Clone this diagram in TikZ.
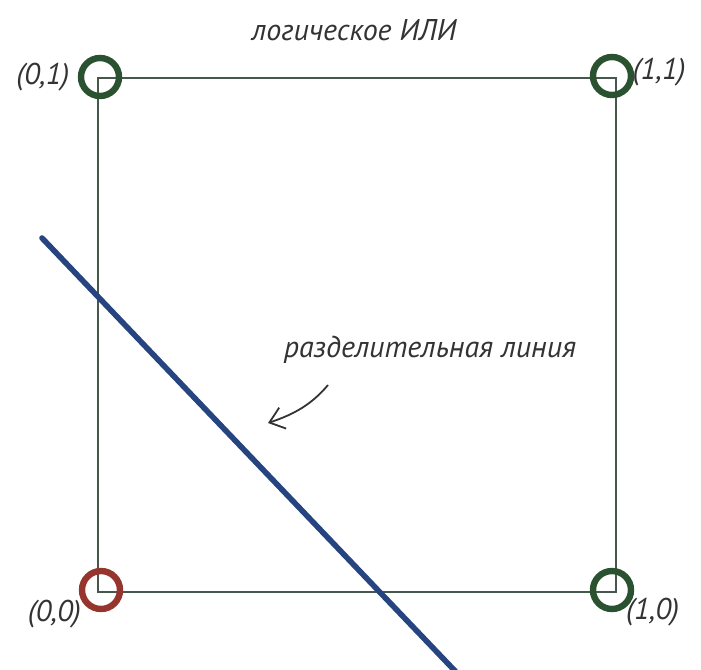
\documentclass[tikz,border=0pt]{standalone}
\usepackage{fontspec}
\setmainfont{PT Sans}
\usepackage{xcolor}
\usepackage{tikz}
\usetikzlibrary{arrows.meta,positioning}
\definecolor{verdeEscuro}{RGB}{42,82,48}
\definecolor{vermelhoEscuro}{RGB}{150,52,46}
\definecolor{azulLinha}{RGB}{38,68,128}
\definecolor{cinzaQuadro}{RGB}{70,88,76}
\tikzset{
    ponto/.style={
        circle,
        draw,
        line width=3.2pt,
        minimum size=19pt,
        inner sep=0pt
    },
    pontoVerdadeiro/.style={ponto, draw=verdeEscuro},
    pontoFalso/.style={ponto, draw=vermelhoEscuro},
    rotulo/.style={font=\fontsize{15}{17}\selectfont\itshape, text=black!80, inner sep=1pt},
    quadro/.style={draw=cinzaQuadro, line width=0.6pt},
    linhaDivisoria/.style={draw=azulLinha, line width=2.8pt, line cap=round},
    seta/.style={-{Straight Barb[length=7pt,width=11pt]}, line width=0.9pt, black!80}
}

\begin{document}
\begin{tikzpicture}[x=0.5pt, y=-0.5pt]
        \useasboundingbox (0,0) rectangle (701,669);

        % cantos do quadrado
        \coordinate (c00) at (98,592);
        \coordinate (c10) at (616,592);
        \coordinate (c01) at (98,78);
        \coordinate (c11) at (616,78);

        \draw[quadro] (c00) -- (c10) -- (c11) -- (c01) -- cycle;

        \node[pontoFalso] (v00) at (101,590) {};
        \node[pontoVerdadeiro] (v10) at (612,590) {};
        \node[pontoVerdadeiro] (v01) at (100,77) {};
        \node[pontoVerdadeiro] (v11) at (612,76) {};

        \node[rotulo, left=3pt of v01] (r01) {(0,1)};
        \node[rotulo, right=-2pt of v11, yshift=2pt] (r11) {(1,1)};
        \node[rotulo, below left=-4pt and 1pt of v00] (r00) {(0,0)};
        \node[rotulo, below right=-5pt and -2pt of v10] (r10) {(1,0)};

        \node[rotulo] (titulo) at (354,30) {логическое ИЛИ};

        % linha que separa os pontos
        \coordinate (inicio) at (42,238);
        \coordinate (fim) at (456,672);
        \draw[linhaDivisoria] (inicio) -- (fim);

        \node[rotulo] (legenda) at (430,350) {разделительная линия};
        \coordinate (origemSeta) at (328,385);
        \coordinate (pontaSeta) at (268,423);
        \draw[seta] (origemSeta) .. controls (312,404) and (295,414) .. (pontaSeta);
    \end{tikzpicture}
\end{document}
